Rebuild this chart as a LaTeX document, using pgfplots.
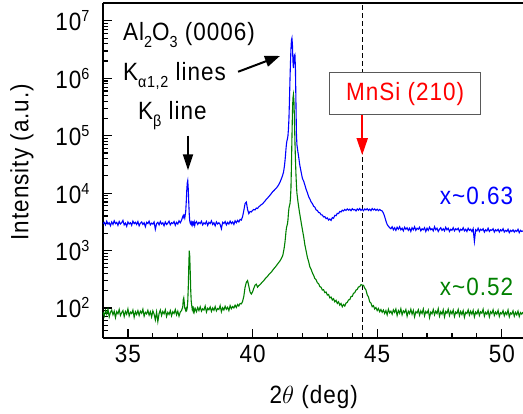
\documentclass[border=0pt]{standalone}
\usepackage{fontspec}
\setmainfont{Liberation Sans}[LetterSpace=4, FakeStretch=0.9]
\usepackage{pgfplots}
\pgfplotsset{compat=1.18}
\usepackage{pgfplotstable}
\usetikzlibrary{arrows.meta,calc}

\newcommand\sub[1]{\raisebox{-7bp}{\fontsize{16bp}{16bp}\selectfont #1}}
\newcommand\dec[1]{10\raisebox{9bp}{\fontsize{16bp}{16bp}\selectfont #1}}

% 2theta, blue (x~0.63), green (x~0.52)
\pgfplotstableread{
x b g
34.00 2950 85
34.05 3100 72
34.10 2800 90
34.15 3250 78
34.20 2900 95
34.25 3050 70
34.30 2700 84
34.35 3150 92
34.40 2850 76
34.45 3300 88
34.50 2950 68
34.55 3100 86
34.60 2750 79
34.65 3200 94
34.70 2900 74
34.75 3050 83
34.80 3350 90
34.85 2800 71
34.90 3000 87
34.95 2650 78
35.00 3150 96
35.05 2900 73
35.10 3050 85
35.15 2750 80
35.20 3250 92
35.25 2950 69
35.30 3100 86
35.35 2850 77
35.40 3200 90
35.45 2700 74
35.50 3000 88
35.55 3150 81
35.60 2850 95
35.65 3050 72
35.70 2600 84
35.75 3100 79
35.80 2950 91
35.85 3250 75
35.90 2800 86
35.95 3000 70
36.00 2900 89
36.05 3150 78
36.10 2350 62
36.15 2950 85
36.20 3100 58
36.25 2800 80
36.30 3200 92
36.35 2900 74
36.40 3050 87
36.45 2700 79
36.50 3150 93
36.55 2850 71
36.60 3000 84
36.65 3250 77
36.70 2800 90
36.75 3050 73
36.80 2950 86
36.85 3200 80
36.90 2750 94
36.95 3100 76
37.00 2900 88
37.05 3300 72
37.10 3050 85
37.15 3350 90
37.20 3900 105
37.22 4100 140
37.24 3800 150
37.26 4000 125
37.28 3700 100
37.30 4200 95
37.32 4900 90
37.34 7000 98
37.36 11000 92
37.38 15000 100
37.40 16500 130
37.42 12000 220
37.44 7000 500
37.46 4300 1000
37.48 3300 800
37.50 3000 420
37.52 2900 200
37.54 3100 130
37.56 2850 110
37.58 3050 95
37.60 2800 100
37.62 3050 88
37.64 2900 96
37.66 3150 85
37.68 2750 92
37.70 3000 98
37.75 3200 86
37.80 2850 102
37.85 3100 90
37.90 2950 105
37.95 3250 88
38.00 2800 97
38.05 3050 92
38.10 2900 108
38.15 3200 85
38.20 2750 99
38.25 3100 93
38.30 2950 104
38.35 3300 87
38.40 2850 100
38.45 3050 91
38.50 2700 106
38.55 3150 89
38.60 2900 98
38.65 3050 94
38.70 2850 110
38.75 2400 86
38.80 3100 101
38.85 2950 92
38.90 3200 107
38.95 2800 95
39.00 3100 103
39.05 2900 90
39.10 3250 110
39.15 2950 97
39.20 3150 106
39.25 2850 100
39.30 3300 112
39.35 3050 102
39.40 3350 115
39.45 3150 108
39.50 3500 120
39.55 3400 118
39.60 3900 130
39.65 5000 160
39.70 6600 230
39.75 7000 280
39.80 5200 300
39.85 4400 240
39.90 4800 190
39.95 4700 175
40.00 5000 190
40.05 5200 220
40.10 5100 250
40.15 5500 260
40.20 5400 230
40.25 5800 245
40.30 6000 255
40.35 6300 270
40.40 6500 285
40.45 6900 300
40.50 7300 320
40.55 7800 340
40.60 8200 355
40.65 8700 380
40.70 9200 400
40.75 9800 420
40.80 10500 450
40.85 11000 480
40.90 11600 510
40.95 12200 540
41.00 13000 580
41.05 14000 620
41.10 15500 660
41.15 17500 720
41.20 20000 800
41.22 21500 850
41.24 23000 950
41.26 26000 1050
41.28 30000 1200
41.30 36000 1400
41.32 45000 1700
41.34 58000 2100
41.36 72000 2500
41.38 82000 2700
41.40 88000 2900
41.42 100000 3400
41.44 130000 4500
41.46 200000 5500
41.48 400000 6000
41.50 900000 6500
41.52 1800000 8000
41.54 3200000 12000
41.56 4600000 30000
41.58 5000000 90000
41.60 3800000 250000
41.62 2000000 450000
41.64 1500000 520000
41.66 2100000 400000
41.68 2500000 200000
41.70 2600000 80000
41.72 1500000 40000
41.74 400000 22000
41.76 110000 14000
41.78 70000 10000
41.80 60000 8500
41.82 52000 7200
41.84 46000 6200
41.86 40000 5400
41.88 34000 4700
41.90 30000 4200
41.92 27000 3700
41.94 24500 3300
41.96 22000 2900
41.98 20000 2600
42.00 18000 2300
42.05 16200 1750
42.10 13800 1250
42.15 11600 980
42.20 10200 760
42.25 8700 640
42.30 7900 520
42.35 7000 470
42.40 6600 410
42.45 5900 370
42.50 5700 325
42.55 5100 310
42.60 5000 275
42.65 4600 265
42.70 4550 235
42.75 4200 230
42.80 4150 205
42.85 3850 208
42.90 3900 185
42.95 3600 190
43.00 3700 168
43.05 3400 172
43.10 3550 150
43.15 3350 155
43.20 3750 138
43.25 3650 145
43.30 4100 128
43.35 4050 136
43.40 4450 120
43.45 4400 128
43.50 4800 112
43.55 4700 120
43.60 5050 105
43.65 4900 115
43.70 5200 108
43.75 5000 122
43.80 5300 125
43.85 5050 138
43.90 5250 140
43.95 4950 158
44.00 5350 160
44.05 5100 180
44.10 5200 185
44.15 4900 205
44.20 5300 210
44.25 5050 232
44.30 5400 235
44.35 5000 255
44.40 5250 250
44.45 4950 248
44.50 5300 222
44.55 5100 205
44.60 5350 170
44.65 5000 155
44.70 5250 128
44.75 4950 122
44.80 5400 105
44.85 5100 110
44.90 5300 96
44.95 5000 102
45.00 5250 90
45.05 4950 98
45.10 5200 86
45.15 5000 94
45.20 4900 84
45.25 4500 92
45.30 3900 80
45.35 3300 90
45.40 2850 76
45.45 2650 95
45.50 2500 82
45.55 2400 88
45.60 2600 78
45.65 2300 93
45.70 2500 84
45.75 2250 96
45.80 2550 74
45.85 2350 90
45.90 2600 81
45.95 2300 97
46.00 2450 76
46.05 2200 89
46.10 2550 83
46.15 2350 94
46.20 2500 72
46.25 2250 88
46.30 2450 80
46.35 2150 95
46.40 2500 78
46.45 2300 91
46.50 2600 70
46.55 2250 86
46.60 2450 82
46.65 2350 93
46.70 2550 75
46.75 2200 89
46.80 2400 80
46.85 2300 96
46.90 2500 73
46.95 2150 87
47.00 2450 81
47.05 2250 92
47.10 2550 68
47.15 2300 85
47.20 2400 79
47.25 2200 94
47.30 2600 76
47.35 2300 88
47.40 2450 80
47.45 2150 97
47.50 2350 72
47.55 2500 86
47.60 2250 78
47.65 2400 93
47.70 2200 70
47.75 2550 87
47.80 2300 81
47.85 2450 95
47.90 2150 74
47.95 2350 88
48.00 2250 79
48.05 2500 92
48.10 2200 71
48.15 2400 85
48.20 2300 80
48.25 2450 94
48.30 2150 73
48.35 2350 87
48.40 2250 77
48.45 2500 90
48.50 2200 69
48.55 2350 84
48.60 2150 80
48.65 2450 93
48.70 2250 75
48.75 2350 88
48.80 2150 78
48.85 2400 91
48.90 1450 70
48.95 2300 85
49.00 2200 79
49.05 2450 92
49.10 2150 74
49.15 2350 86
49.20 2250 81
49.25 2400 95
49.30 2100 72
49.35 2300 84
49.40 2200 78
49.45 2450 90
49.50 2150 70
49.55 2300 86
49.60 2250 80
49.65 2400 93
49.70 2100 74
49.75 2300 85
49.80 2200 78
49.85 2350 91
49.90 2100 71
49.95 2300 83
50.00 2200 79
50.05 2400 90
50.10 2100 73
50.15 2250 84
50.20 2150 77
50.25 2350 92
50.30 2050 70
50.35 2250 82
50.40 2150 78
50.45 2300 89
50.50 2100 72
50.55 2250 84
50.60 2150 76
50.65 2350 88
50.70 2050 71
50.75 2250 83
50.80 2150 78
50.85 2200 85
}\xrd

\begin{document}
\begin{tikzpicture}[font=\fontsize{25bp}{29bp}\selectfont]
\begin{axis}[
  scale only axis, width=420bp, height=335bp,
  xmin=34, xmax=50.85,
  ymode=log, ymin=30, ymax=2.05e7,
  axis x line*=bottom, axis y line*=left,
  axis line style={line width=1.5bp, black},
  tick align=inside,
  major tick length=9bp, minor tick length=5bp,
  every tick/.style={line width=1.2bp, black},
  xtick={35,40,45,50}, xticklabels={35,40,45,50},
  minor xtick={36,37,38,39,41,42,43,44,46,47,48,49},
  ytick={1e2,1e3,1e4,1e5,1e6,1e7},
  yticklabels={\dec{2},\dec{3},\dec{4},\dec{5},\dec{6},\dec{7}},
  minor ytick={40,50,60,70,80,90,200,300,400,500,600,700,800,900,
    2000,3000,4000,5000,6000,7000,8000,9000,
    20000,30000,40000,50000,60000,70000,80000,90000,
    200000,300000,400000,500000,600000,700000,800000,900000,
    2000000,3000000,4000000,5000000,6000000,7000000,8000000,9000000},
  xticklabel style={yshift=-4bp},
  yticklabel style={xshift=-10bp},
  xlabel={2$\theta$ (deg)},
  ylabel={Intensity (a.u.)},
  xlabel style={at={(rel axis cs:0.502,-0.176)}, anchor=center},
  ylabel style={at={(rel axis cs:-0.193,0.525)}, anchor=center},
  clip mode=individual,
]
\draw[line width=1.5bp] (rel axis cs:0,1) -- (rel axis cs:1,1);
\draw[dash pattern=on 5bp off 3bp, line width=0.8bp]
  ({axis cs:44.41,100} |- {rel axis cs:0,0}) -- ({axis cs:44.41,100} |- {rel axis cs:0,1});
\addplot[no markers, color=blue, line width=1.1bp] table[x=x, y=b] {\xrd};
\addplot[no markers, color=green!50!black, line width=1.1bp] table[x=x, y=g] {\xrd};

\node[anchor=base west, inner sep=0pt] at (axis cs:34.8,4.5e6) {Al\sub{2}O\sub{3} (0006)};
\node[anchor=base west, inner sep=0pt] at (axis cs:34.8,9.3e5) {K\sub{α1,2} lines};
\node[anchor=base west, inner sep=0pt] at (axis cs:35.4,1.9e5) {K\sub{β} line};
\draw[line width=2bp, -{Triangle[length=15bp, width=11bp]}] (axis cs:39.42,1.3e6) -- (axis cs:41.10,2.45e6);
\draw[line width=2bp, -{Triangle[length=16bp, width=10bp]}] (axis cs:37.41,1.0e5) -- (axis cs:37.41,2.5e4);
\node[draw=black!65, fill=white, line width=0.8bp, text=red, minimum width=151bp, minimum height=42bp, inner sep=0pt] at (axis cs:46.12,5.4e5) {MnSi (210)};
\draw[red, line width=2bp, -{Triangle[length=17bp, width=11bp]}] (axis cs:44.40,2.3e5) -- (axis cs:44.40,4.6e4);
\node[anchor=east, text=blue, inner sep=0pt] at (axis cs:50.46,8.9e3) {x\textasciitilde 0.63};
\node[anchor=east, text=green!50!black, inner sep=0pt] at (axis cs:50.46,230) {x\textasciitilde 0.52};

\coordinate (sw) at (rel axis cs:0,0);
\coordinate (ne) at (rel axis cs:1,1);
\end{axis}
\pgfresetboundingbox
\path ($(sw)+(-103bp,-76bp)$) rectangle ($(ne)+(0bp,3bp)$);
\end{tikzpicture}
\end{document}
